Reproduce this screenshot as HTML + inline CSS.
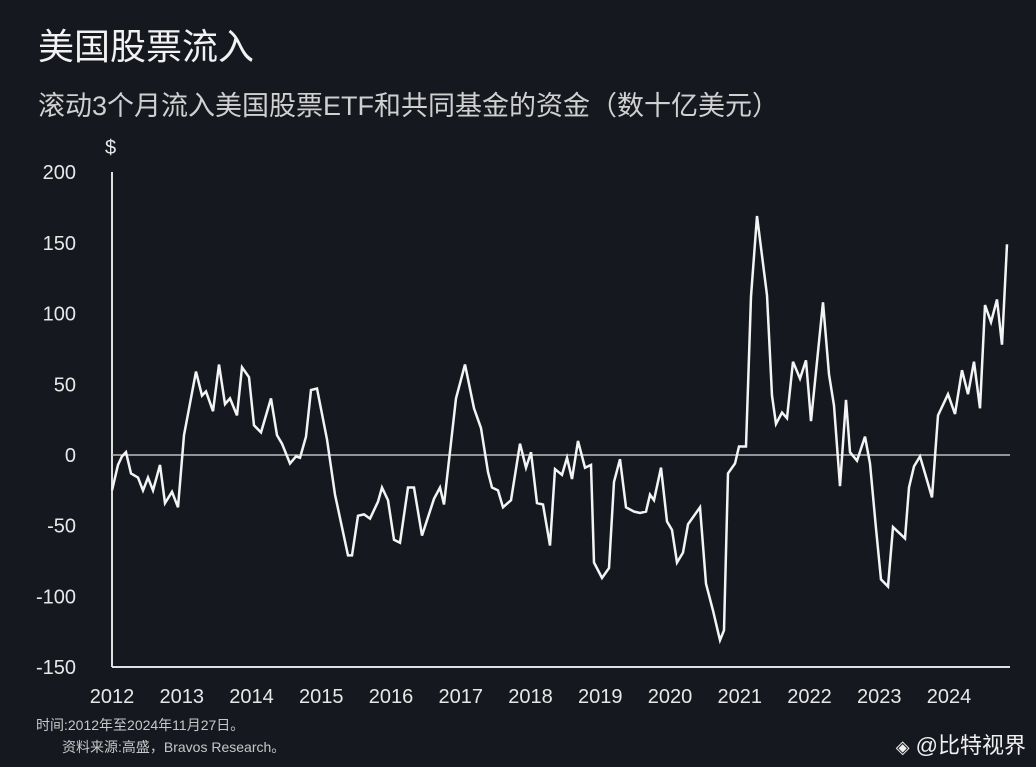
<!DOCTYPE html>
<html><head><meta charset="utf-8">
<style>
body{margin:0;background:#15181f;width:1036px;height:767px;overflow:hidden;font-family:"Liberation Sans","Noto Sans CJK SC",sans-serif;color:#e8e8e8}
#title{position:absolute;left:38px;top:18px;font-size:36px;color:#f2f2f2;margin:0;font-weight:normal}
#subtitle{position:absolute;left:38px;top:84px;font-size:27px;color:#d0d0d0}
.foot{position:absolute;font-size:14px;color:#c8c8c8}
#wm{position:absolute;right:10px;top:728px;font-size:22px;color:#f0f0f0}
svg{position:absolute;left:0;top:0}
</style></head><body>
<h1 id="title">美国股票流入</h1>
<div id="subtitle">滚动3个月流入美国股票ETF和共同基金的资金（数十亿美元）</div>
<div class="foot" style="left:36px;top:715px">时间:2012年至2024年11月27日。</div>
<div class="foot" style="left:62px;top:737px">资料来源:高盛，Bravos Research。</div>
<div id="wm"><span style="font-size:18px">◈</span> @比特视界</div>
<svg id="chart" width="1036" height="767"></svg>
<script>
const yTicks=[200,150,100,50,0,-50,-100,-150];
const xYears=[2012,2013,2014,2015,2016,2017,2018,2019,2020,2021,2022,2023,2024];
const dates=[112,118,122,126,131,138,143,148,153,160,165,172,178,184,196,202,206,213,219,225,230,237,242,249,254,261,271,277,282,290,296,300,306,311,317,327,335,348,352,358,364,370,378,382,388,394,400,408,414,422,434,440,444,456,465,474,481,488,492,498,503,511,520,526,531,537,543,550,555,562,567,572,578,585,591,594,602,609,614,620,626,634,640,646,650,654,661,667,672,677,683,688,700,706,713,718,720,724,728,735,739,746,751,757,767,772,776,782,787,793,800,806,811,823,829,834,840,846,850,857,865,870,876,881,888,893,905,909,914,920,925,932,938,948,955,962,968,974,980,985,991,997,1002,1007].map(p=>2012+(p-112)/69.75);
const values=[-25,-7,-1,2,-13,-16,-25,-16,-25,-7,-34,-26,-37,14,59,42,45,31,64,36,40,28,62,55,21,16,40,14,8,-6,-1,-2,13,46,47,11,-28,-71,-71,-43,-42,-45,-33,-23,-32,-60,-62,-23,-23,-57,-31,-23,-35,40,64,33,19,-12,-23,-25,-37,-32,8,-9,2,-34,-35,-64,-10,-14,-2,-17,10,-9,-7,-76,-87,-80,-19,-3,-37,-40,-41,-40,-28,-32,-9,-47,-53,-76,-69,-49,-37,-91,-110,-125,-131,-124,-13,-6,6,6,112,169,113,42,22,30,26,66,54,67,24,108,57,35,-22,39,2,-4,13,-6,-52,-88,-93,-51,-59,-23,-8,-1,-13,-30,28,43,29,60,43,66,33,106,94,110,78,149];
const svg=document.getElementById('chart');
const NS='http://www.w3.org/2000/svg';
const X=t=>112+(t-2012)*69.75;
const Y=v=>455-v*1.414;
function mk(tag,attrs){const e=document.createElementNS(NS,tag);for(const k in attrs)e.setAttribute(k,attrs[k]);svg.appendChild(e);return e;}
let t=mk('text',{x:105,y:154,fill:'#e8e8e8','font-size':20,'font-family':'Liberation Sans'});t.textContent='$';


let a=mk('line',{x1:112,y1:172,x2:112,y2:667,stroke:'#e0e0e0','stroke-width':2});


let b=mk('line',{x1:112,y1:667,x2:1010,y2:667,stroke:'#e0e0e0','stroke-width':2});


let z=mk('line',{x1:112,y1:Y(0),x2:1010,y2:Y(0),stroke:'#bdbdbd','stroke-width':1.5});


yTicks.forEach(v=>{const e=mk('text',{x:76,y:Y(v)+7,fill:'#e8e8e8','font-size':20,'text-anchor':'end','font-family':'Liberation Sans'});e.textContent=v;

});
xYears.forEach(y=>{const e=mk('text',{x:X(y),y:703,fill:'#e8e8e8','font-size':20,'text-anchor':'middle','font-family':'Liberation Sans'});e.textContent=y;

});
const pts=dates.map((d,i)=>X(d).toFixed(1)+','+Y(values[i]).toFixed(1)).join(' ');
let l=mk('polyline',{points:pts,fill:'none',stroke:'#f4f4f4','stroke-width':2.5,'stroke-linejoin':'miter'});


</script>
</body></html>
